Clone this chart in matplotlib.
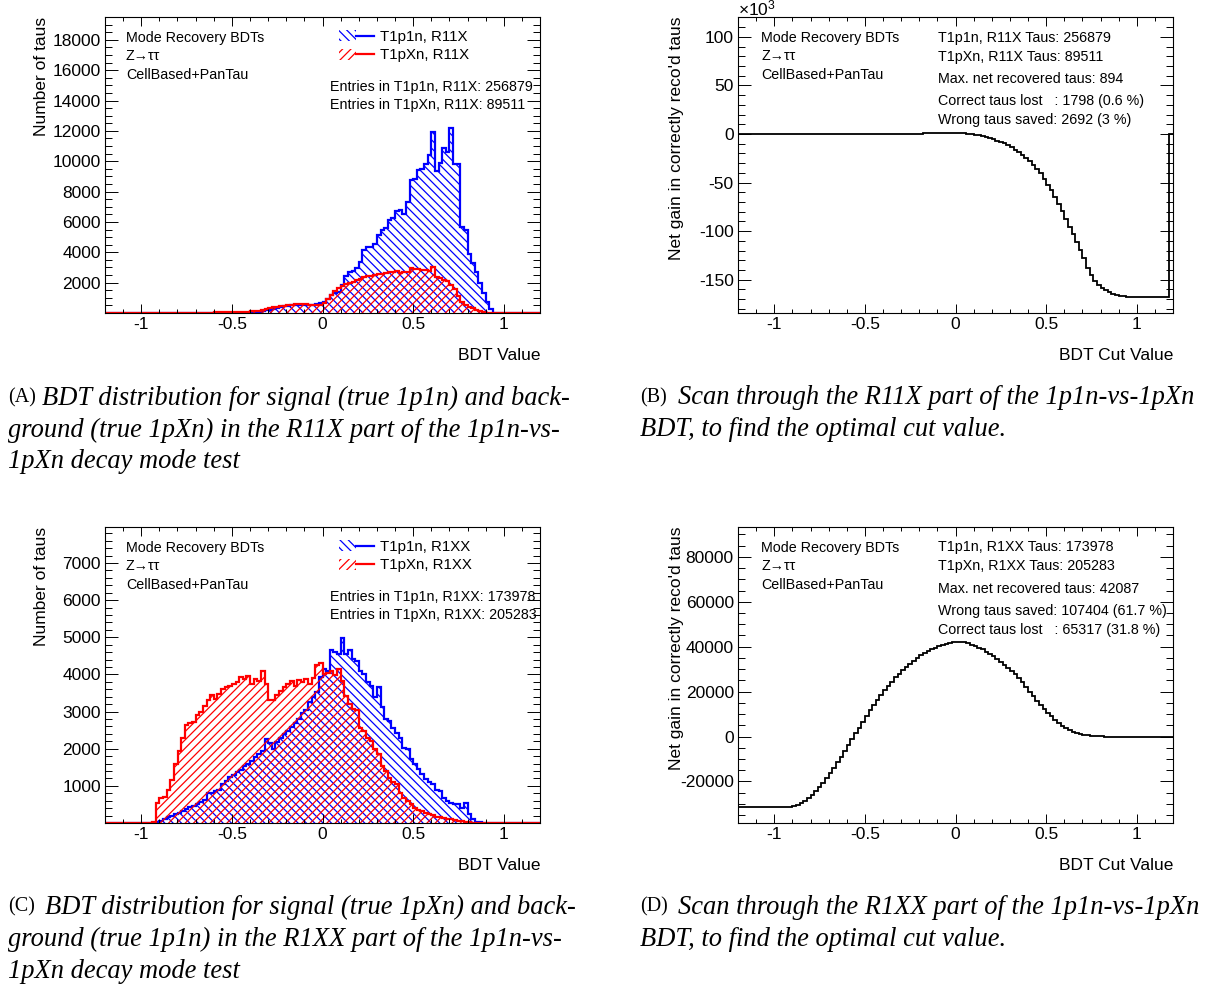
import numpy as np
import matplotlib.pyplot as plt
from matplotlib.patches import Patch
from matplotlib.lines import Line2D
from matplotlib.legend_handler import HandlerTuple
from matplotlib.ticker import MultipleLocator, FuncFormatter

plt.rcParams['font.family'] = ['Liberation Sans', 'DejaVu Sans']
plt.rcParams['mathtext.fontset'] = 'custom'
plt.rcParams['mathtext.rm'] = 'Liberation Sans'
plt.rcParams['mathtext.default'] = 'regular'
plt.rcParams['hatch.linewidth'] = 0.9

W, H = 1228, 990

# 120 bins of 0.02 between -1.2 and 1.2
bin_edges = np.linspace(-1.2, 1.2, 121)

# --- R11X part: BDT output, true 1p1n (blue) and true 1pXn (red)
r11x_t1p1n = [
    0, 0, 0, 0, 0, 0, 0, 0, 0, 0,
    0, 0, 0, 0, 0, 0, 0, 0, 0, 0,
    0, 0, 0, 0, 0, 5, 5, 10, 10, 15,
    15, 20, 20, 25, 25, 30, 30, 30, 30, 30,
    30, 40, 60, 100, 170, 230, 290, 340, 390, 430,
    470, 510, 540, 560, 560, 540, 540, 560, 620, 650,
    700, 950, 1180, 1330, 1400, 1850, 2440, 2720, 2800, 2950,
    3380, 4150, 4370, 4380, 4540, 5140, 5460, 5620, 6120, 6230,
    6740, 6820, 6550, 7300, 8750, 8800, 9450, 9520, 9850, 10400,
    11940, 9370, 9900, 10900, 10620, 12220, 9850, 9800, 5700, 5500,
    3900, 3300, 2700, 2000, 1300, 700, 250, 30, 0, 0,
    0, 0, 0, 0, 0, 0, 0, 0, 0, 0,
]
r11x_t1pxn = [
    0, 0, 0, 0, 0, 0, 0, 0, 0, 0,
    0, 0, 0, 0, 0, 0, 0, 0, 0, 0,
    0, 0, 0, 0, 0, 10, 15, 20, 25, 30,
    40, 45, 50, 55, 60, 65, 70, 75, 80, 90,
    100, 120, 150, 200, 260, 320, 370, 410, 440, 470,
    500, 540, 570, 600, 610, 590, 540, 500, 500, 540,
    650, 900, 1200, 1450, 1650, 1800, 1900, 2000, 2050, 2150,
    2250, 2400, 2450, 2420, 2500, 2560, 2600, 2650, 2700, 2720,
    2770, 2620, 2720, 2680, 2940, 2900, 2880, 2850, 2820, 2780,
    3000, 2400, 2300, 2200, 2080, 1850, 1550, 1100, 700, 530,
    420, 310, 200, 120, 60, 20, 5, 0, 0, 0,
    0, 0, 0, 0, 0, 0, 0, 0, 0, 0,
]
# net gain in correctly reconstructed taus vs. cut value (x 10^3)
r11x_gain_k = [
    0, 0, 0, 0, 0, 0, 0, 0, 0, 0,
    0, 0, 0, 0, 0, 0, 0, 0, 0, 0,
    0, 0, 0, 0, 0, 0, 0, 0, 0, 0,
    0, 0, 0, 0, 0.01, 0.02, 0.03, 0.04, 0.05, 0.06,
    0.07, 0.08, 0.10, 0.13, 0.17, 0.23, 0.31, 0.39, 0.46, 0.52,
    0.56, 0.59, 0.62, 0.66, 0.71, 0.76, 0.80, 0.82, 0.84, 0.87,
    0.89, 0.80, 0.60, 0.30, -0.10, -0.60, -1.30, -2.20, -3.30, -4.40,
    -5.5, -6.7, -8.0, -9.5, -11.4, -13.6, -16.0, -18.5, -21.2, -24.5,
    -28.0, -31.8, -35.8, -40.2, -46.0, -52.0, -58.0, -64.5, -71.5, -79.0,
    -87.0, -96.0, -103.0, -111.0, -119.5, -128.0, -138.0, -145.5, -151.0, -155.0,
    -158.5, -161.0, -163.0, -164.5, -165.7, -166.5, -167.0, -167.3, -167.4, -167.4,
    -167.4, -167.4, -167.4, -167.4, -167.4, -167.4, -167.4, -167.4, -167.4, 0,
]

# --- R1XX part: BDT output, true 1p1n (blue) and true 1pXn (red)
r1xx_t1p1n = [
    0, 0, 0, 0, 0, 0, 0, 0, 0, 0,
    0, 0, 0, 5, 30, 60, 110, 160, 200, 240,
    280, 320, 370, 420, 470, 520, 570, 620, 800, 820,
    850, 900, 1050, 1140, 1230, 1300, 1380, 1420, 1530, 1600,
    1680, 1780, 1860, 1950, 2260, 2150, 1990, 2170, 2300, 2400,
    2480, 2580, 2700, 2800, 2950, 3030, 3250, 3400, 3530, 3930,
    4150, 4100, 4650, 4600, 4550, 4980, 4550, 4650, 4420, 4350,
    4100, 4010, 3790, 3700, 3380, 3650, 3110, 2800, 2750, 2570,
    2420, 2300, 2030, 1990, 1720, 1580, 1450, 1310, 1180, 1100,
    1040, 900, 860, 680, 600, 550, 510, 500, 410, 550,
    230, 100, 40, 20, 10, 0, 0, 0, 0, 0,
    0, 0, 0, 0, 0, 0, 0, 0, 0, 0,
]
r1xx_t1pxn = [
    0, 0, 0, 0, 0, 0, 0, 0, 0, 0,
    0, 0, 0, 40, 550, 680, 700, 900, 1150, 1600,
    1950, 2300, 2650, 2700, 2720, 2900, 3000, 3150, 3300, 3450,
    3350, 3480, 3600, 3650, 3680, 3750, 3800, 3920, 3870, 3960,
    3750, 3880, 3830, 4100, 3750, 3300, 3300, 3450, 3550, 3650,
    3750, 3830, 3700, 3840, 3790, 3880, 3740, 3900, 4240, 4300,
    4010, 4050, 4100, 3980, 4150, 3830, 3430, 3200, 3070, 3050,
    2570, 2480, 2300, 2210, 1990, 1850, 1540, 1400, 1220, 1100,
    1040, 820, 680, 600, 520, 414, 360, 324, 279, 240,
    207, 171, 160, 144, 120, 99, 80, 60, 50, 35,
    20, 10, 5, 0, 0, 0, 0, 0, 0, 0,
    0, 0, 0, 0, 0, 0, 0, 0, 0, 0,
]
r1xx_gain = [
    -31305, -31305, -31305, -31305, -31305, -31305, -31305, -31305, -31305, -31305,
    -31305, -31305, -31305, -31305, -31250, -30900, -30300, -29500, -28500, -27300,
    -25900, -24300, -22500, -20500, -18400, -16200, -13900, -11500, -9000, -6400,
    -3800, -1200, 1400, 4000, 6600, 9100, 11600, 14000, 16300, 18500,
    20600, 22600, 24500, 26300, 28000, 29600, 31100, 32500, 33800, 35000,
    36100, 37100, 38000, 38800, 39500, 40200, 40800, 41300, 41700, 41950,
    42087, 42000, 41900, 41500, 40900, 40200, 39600, 38800, 37800, 36800,
    35700, 34600, 33200, 31900, 30500, 29200, 27700, 26000, 24100, 22100,
    20000, 17900, 15900, 14000, 12300, 10600, 9000, 7500, 6100, 4900,
    3800, 2900, 2200, 1650, 1200, 850, 600, 400, 230, 120,
    50, 15, 0, 0, 0, 0, 0, 0, 0, 0,
    0, 0, 0, 0, 0, 0, 0, 0, 0, 0,
]

header = ['Mode Recovery BDTs', 'Z\u2192\u03c4\u03c4', 'CellBased+PanTau']

BLUE = '#0000ff'
RED = '#ff0000'
HATCH_SIG = '\\\\\\\\'
HATCH_BKG = '////'

fig = plt.figure(figsize=(W / 100, H / 100), dpi=100)


def px(x, y):
    return x / W, 1 - y / H


def make_axes(x0, y0, x1, y1):
    return fig.add_axes([x0 / W, 1 - y1 / H, (x1 - x0) / W, (y1 - y0) / H])


def fmt_x(v, pos):
    return '0' if abs(v) < 1e-9 else f'{v:g}'


def root_style(ax, ymaj, ymin, ylim, hide_zero):
    ax.set_xlim(-1.2, 1.2)
    ax.set_ylim(*ylim)
    ax.xaxis.set_major_locator(MultipleLocator(0.5))
    ax.xaxis.set_minor_locator(MultipleLocator(0.1))
    ax.yaxis.set_major_locator(MultipleLocator(ymaj))
    ax.yaxis.set_minor_locator(MultipleLocator(ymin))
    ax.xaxis.set_major_formatter(FuncFormatter(fmt_x))
    ax.yaxis.set_major_formatter(FuncFormatter(
        lambda v, p: '' if (hide_zero and abs(v) < 1e-9) else f'{v:g}'))
    ax.tick_params(which='both', direction='in', top=True, right=True,
                   labelsize=12.5, width=0.7)
    ax.tick_params(axis='x', which='major', length=6.5, pad=3)
    ax.tick_params(axis='x', which='minor', length=3.2)
    ax.tick_params(axis='y', which='major', length=9.4, pad=3)
    ax.tick_params(axis='y', which='minor', length=4.7)
    for s in ax.spines.values():
        s.set_linewidth(0.8)


def draw_hist(ax, values, color, hatch):
    ax.stairs(values, bin_edges, fill=True, facecolor='none', edgecolor=color,
              hatch=hatch, linewidth=0)
    ax.stairs(values, bin_edges, color=color, linewidth=1.6)


def text(x, y, s, size=10.3, ha='left', **kw):
    fig.text(*px(x, y), s, fontsize=size, ha=ha, va='center', **kw)


def hist_panel(y0, sig, bkg, part, n_sig, n_bkg, ylim, ymaj, ymin):
    ax = make_axes(105, y0, 540, y0 + 296)
    draw_hist(ax, sig, BLUE, HATCH_SIG)
    draw_hist(ax, bkg, RED, HATCH_BKG)
    root_style(ax, ymaj, ymin, ylim, hide_zero=True)
    handles = [(Patch(facecolor='none', edgecolor=c, hatch=h, linewidth=0),
                Line2D([], [], color=c, lw=1.6))
               for c, h in [(BLUE, HATCH_SIG), (RED, HATCH_BKG)]]
    fig.legend(handles, [f'T1p1n, {part}', f'T1pXn, {part}'],
               loc='upper left', bbox_to_anchor=px(339, y0 + 13),
               frameon=False, fontsize=10.8, handlelength=2.3, handleheight=0.75,
               labelspacing=0.3, handletextpad=0.4, borderpad=0, borderaxespad=0,
               handler_map={tuple: HandlerTuple(ndivide=None)})
    for i, s in enumerate(header):
        text(126, y0 + 21 + 18.5 * i, s)
    text(330, y0 + 70, f'Entries in T1p1n, {part}: {n_sig}')
    text(330, y0 + 88, f'Entries in T1pXn, {part}: {n_bkg}')
    fig.text(*px(42, y0), 'Number of taus', rotation=90, ha='center', va='top',
             fontsize=12.5)
    text(540, y0 + 338, 'BDT Value', size=12.5, ha='right')
    return ax


def scan_panel(y0, gain, ylim, ymaj, ymin, lines):
    ax = make_axes(738, y0, 1173, y0 + 296)
    ax.stairs(gain, bin_edges, baseline=None, color='black', linewidth=1.3)
    root_style(ax, ymaj, ymin, ylim, hide_zero=False)
    for i, s in enumerate(header):
        text(761, y0 + 21 + 18.5 * i, s)
    for (dy, s) in lines:
        text(938, y0 + dy, s)
    fig.text(*px(676, y0), "Net gain in correctly reco'd taus", rotation=90,
             ha='center', va='top', fontsize=12.5)
    text(1173, y0 + 338, 'BDT Cut Value', size=12.5, ha='right')
    return ax


hist_panel(17, r11x_t1p1n, r11x_t1pxn, 'R11X', 256879, 89511, (0, 19506), 2000, 500)
hist_panel(527, r1xx_t1p1n, r1xx_t1pxn, 'R1XX', 173978, 205283, (0, 7968), 1000, 200)

scan_panel(17, r11x_gain_k, (-184.2, 120.5), 50, 10, [
    (21, 'T1p1n, R11X Taus: 256879'),
    (40, 'T1pXn, R11X Taus: 89511'),
    (62, 'Max. net recovered taus: 894'),
    (84, 'Correct taus lost   : 1798 (0.6 %)'),
    (103, 'Wrong taus saved: 2692 (3 %)'),
])
fig.text(*px(738, 15), r'$\times10^{3}$', fontsize=12.5, ha='left', va='baseline')

scan_panel(527, r1xx_gain, (-38500, 93300), 20000, 5000, [
    (20, 'T1p1n, R1XX Taus: 173978'),
    (39, 'T1pXn, R1XX Taus: 205283'),
    (62, 'Max. net recovered taus: 42087'),
    (84, 'Wrong taus saved: 107404 (61.7 %)'),
    (103, 'Correct taus lost   : 65317 (31.8 %)'),
])

# captions
serif = dict(family=['Liberation Serif', 'DejaVu Serif'])
captions = [
    (8, 42, 398, '(A)', ['BDT distribution for signal (true 1p1n) and back-',
                         'ground (true 1pXn) in the R11X part of the 1p1n-vs-',
                         '1pXn decay mode test']),
    (640, 678, 398, '(B)', ['Scan through the R11X part of the 1p1n-vs-1pXn',
                            'BDT, to find the optimal cut value.']),
    (8, 45, 907, '(C)', ['BDT distribution for signal (true 1pXn) and back-',
                         'ground (true 1p1n) in the R1XX part of the 1p1n-vs-',
                         '1pXn decay mode test']),
    (640, 678, 907, '(D)', ['Scan through the R1XX part of the 1p1n-vs-1pXn',
                            'BDT, to find the optimal cut value.']),
]
for x_tag, x_txt, y_top, tag, lines in captions:
    text(x_tag, y_top, tag, size=14.5, **serif)
    for i, s in enumerate(lines):
        x = x_txt if i == 0 else x_tag
        text(x, y_top + 32 * i, s, size=19.1, style='italic', **serif)

fig.savefig('out.png', dpi=100)
